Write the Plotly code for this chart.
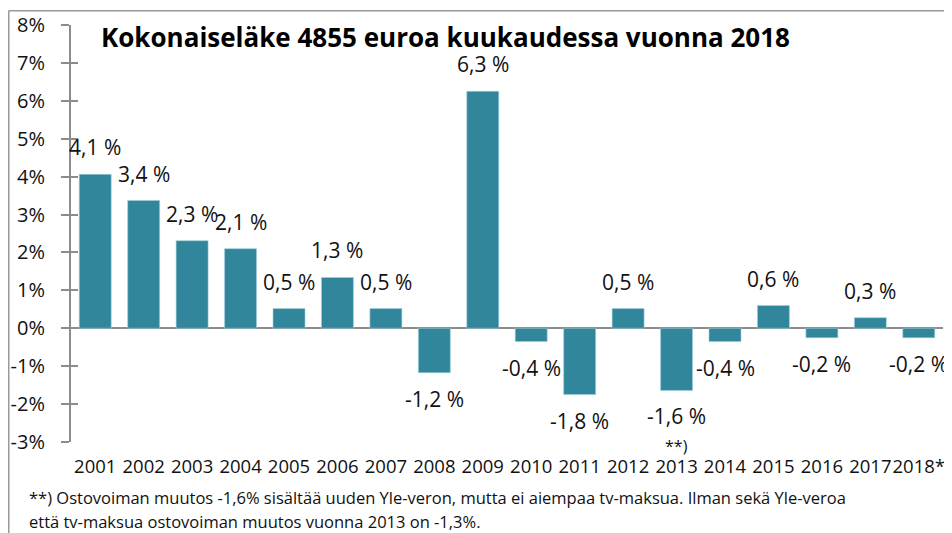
import plotly.graph_objects as go

years = ["2001", "2002", "2003", "2004", "2005", "2006", "2007", "2008", "2009",
         "2010", "2011", "2012", "2013", "2014", "2015", "2016", "2017", "2018*"]
values = [4.06, 3.37, 2.31, 2.10, 0.52, 1.34, 0.52, -1.17, 6.25,
          -0.35, -1.75, 0.52, -1.64, -0.35, 0.60, -0.25, 0.28, -0.25]
labels = ["4,1 %", "3,4 %", "2,3 %", "2,1 %", "0,5 %", "1,3 %", "0,5 %", "-1,2 %", "6,3 %",
          "-0,4 %", "-1,8 %", "0,5 %", "-1,6 %", "-0,4 %", "0,6 %", "-0,2 %", "0,3 %", "-0,2 %"]
ytick_vals = [-3, -2, -1, 0, 1, 2, 3, 4, 5, 6, 7, 8]
ytick_text = ["-3%", "-2%", "-1%", "0%", "1%", "2%", "3%", "4%", "5%", "6%", "7%", "8%"]

title_text = "Kokonaiseläke 4855 euroa kuukaudessa vuonna 2018"
note_year = "2013"
note_mark = "**)"
footnote1 = "**) Ostovoiman muutos -1,6% sisältää uuden Yle-veron, mutta ei aiempaa tv-maksua. Ilman sekä Yle-veroa"
footnote2 = "että tv-maksua ostovoiman muutos vuonna 2013 on -1,3%."

FONT = "Open Sans"
BAR = "#32869C"
GRAY = "#8c8c8c"

fig = go.Figure()
fig.add_trace(go.Bar(x=years, y=values, marker=dict(color=BAR, line=dict(color="#9fd0dc", width=0.6)),
                     hoverinfo="skip"))
# empty trace so that the overlaid tick axis (inner half of the cross ticks) is drawn
fig.add_trace(go.Scatter(x=[], y=[], yaxis="y2", hoverinfo="skip", showlegend=False))

annotations = []
for i, (v, lab) in enumerate(zip(values, labels)):
    annotations.append(dict(x=i, y=v, text=lab, showarrow=False, yshift=27 if v >= 0 else -26,
                            font=dict(family=FONT, size=21, color="#111")))
ni = years.index(note_year)
annotations.append(dict(x=ni, y=values[ni], text=note_mark, showarrow=False, yshift=-56,
                        font=dict(family=FONT, size=16, color="#111")))
annotations.append(dict(xref="paper", yref="paper", x=0.032, y=0.972, xanchor="left", yanchor="middle",
                        text="<b>" + title_text + "</b>", showarrow=False,
                        font=dict(family=FONT, size=26, color="#000")))
annotations.append(dict(xref="paper", yref="paper", x=-0.050, y=-0.133, xanchor="left", yanchor="middle",
                        text=footnote1, showarrow=False, font=dict(family=FONT, size=16.5, color="#111")))
annotations.append(dict(xref="paper", yref="paper", x=-0.050, y=-0.19, xanchor="left", yanchor="middle",
                        text=footnote2, showarrow=False, font=dict(family=FONT, size=16.5, color="#111")))

fig.update_layout(
    width=944, height=525,
    margin=dict(l=63, r=9, t=17, b=91, autoexpand=False),
    paper_bgcolor="white", plot_bgcolor="white",
    showlegend=False, bargap=0.34,
    annotations=annotations,
    xaxis=dict(type="category", range=[-0.5, len(years) - 0.5], autorange=False,
               showline=False, showgrid=False, zeroline=False, ticks="",
               tickangle=0, automargin=False,
               tickfont=dict(family=FONT, size=18.5, color="#111"), ticklabelstandoff=11,
               fixedrange=True),
    yaxis=dict(range=[-3, 8], tickvals=ytick_vals, ticktext=ytick_text,
               showline=True, linecolor=GRAY, linewidth=2, automargin=False,
               ticks="outside", ticklen=8, tickwidth=2, tickcolor=GRAY,
               showgrid=False, zeroline=True, zerolinecolor=GRAY, zerolinewidth=2,
               tickfont=dict(family=FONT, size=20, color="#111"), ticklabelstandoff=12),
    yaxis2=dict(range=[-3, 8], tickvals=ytick_vals, overlaying="y", side="left",
                showline=False, showgrid=False, zeroline=False, showticklabels=False,
                automargin=False,
                ticks="inside", ticklen=7, tickwidth=2, tickcolor=GRAY),
    shapes=[
        dict(type="line", xref="paper", yref="paper", x0=-0.0714, x1=1.02, y0=1.0343, y1=1.0343,
             line=dict(color="#999", width=1.5)),
        dict(type="line", xref="paper", yref="paper", x0=-0.0714, x1=-0.0714, y0=1.0343, y1=-0.25,
             line=dict(color="#999", width=1.5)),
    ],
)

fig.write_html("out.html")
